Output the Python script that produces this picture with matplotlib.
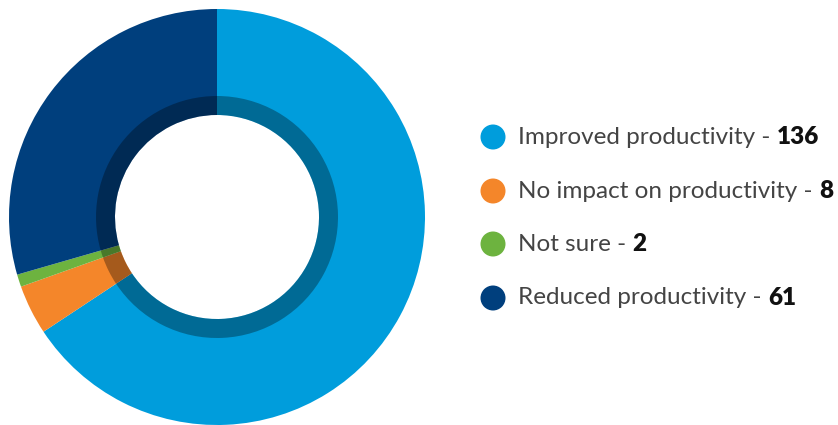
import matplotlib
matplotlib.use('Agg')
import matplotlib.pyplot as plt
from matplotlib.patches import Circle

# Survey answers
labels = ['Improved productivity', 'No impact on productivity', 'Not sure', 'Reduced productivity']
counts = [136, 8, 2, 61]
colors = ['#009ddc', '#f4862a', '#6db33f', '#003f7d']

W, H = 838, 425
fig = plt.figure(figsize=(W / 100, H / 100), dpi=100)

# donut
ax = fig.add_axes([9 / W, 0 / H, 416 / W, 416 / H])
ax.pie(counts, colors=colors, startangle=90, counterclock=False, radius=1.0,
       wedgeprops=dict(width=1.0 - 102 / 208, edgecolor='none', linewidth=0))
# darker inner band
ax.pie(counts, colors=['black'] * len(counts), startangle=90, counterclock=False,
       radius=121 / 208, wedgeprops=dict(width=19 / 208, edgecolor='none', linewidth=0, alpha=0.32))
ax.set_xlim(-1, 1)
ax.set_ylim(-1, 1)
ax.set_aspect('equal')
ax.axis('off')

# legend
lax = fig.add_axes([0, 0, 1, 1])
lax.set_xlim(0, W)
lax.set_ylim(H, 0)
lax.axis('off')

ys = [137, 191, 244, 298]
fig.canvas.draw()
renderer = fig.canvas.get_renderer()
for lab, n, c, y in zip(labels, counts, colors, ys):
    lax.add_patch(Circle((493, y), 12.5, color=c, lw=0))
    t = lax.text(518, y, lab + ' - ', fontsize=17.5, color='#444444',
                 family='Lato', va='center', ha='left')
    bb = t.get_window_extent(renderer=renderer)
    lax.text(bb.x1, y, str(n), fontsize=17.5, color='#111111', fontweight='heavy',
             family='Lato', va='center', ha='left')

fig.savefig('out.png', dpi=100)
